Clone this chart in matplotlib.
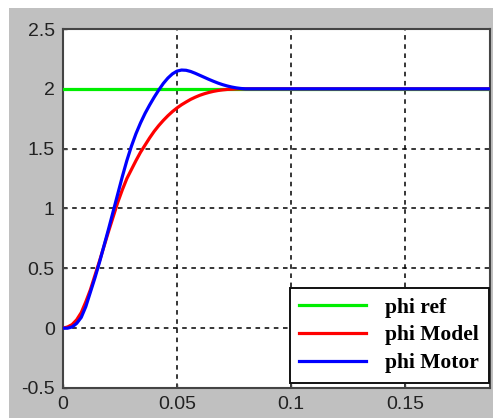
import matplotlib
matplotlib.use("Agg")
import matplotlib.pyplot as plt
from matplotlib.patches import Rectangle

# Data
t = [0.000, 0.002, 0.004, 0.006, 0.008, 0.010, 0.012, 0.014, 0.016, 0.018,
     0.020, 0.022, 0.024, 0.026, 0.028, 0.030, 0.032, 0.034, 0.036, 0.038,
     0.040, 0.042, 0.044, 0.046, 0.048, 0.050, 0.052, 0.054, 0.056, 0.058,
     0.060, 0.062, 0.064, 0.066, 0.068, 0.070, 0.072, 0.074, 0.076, 0.078,
     0.080, 0.190]
phi_ref = [2.0] * len(t)
phi_model = [0.0, 0.01, 0.03, 0.07, 0.13, 0.22, 0.32, 0.44, 0.56, 0.685,
             0.81, 0.93, 1.05, 1.155, 1.25, 1.325, 1.40, 1.47, 1.53, 1.59,
             1.645, 1.693, 1.736, 1.775, 1.81, 1.84, 1.867, 1.89, 1.912, 1.93,
             1.946, 1.959, 1.97, 1.979, 1.986, 1.991, 1.995, 1.997, 1.999, 2.0,
             2.0, 2.0]
phi_motor = [0.0, 0.0, 0.01, 0.04, 0.09, 0.18, 0.30, 0.42, 0.55, 0.69,
             0.83, 0.975, 1.12, 1.265, 1.40, 1.52, 1.625, 1.715, 1.795, 1.865,
             1.93, 1.99, 2.045, 2.09, 2.125, 2.148, 2.157, 2.155, 2.145, 2.13,
             2.113, 2.096, 2.079, 2.063, 2.048, 2.035, 2.024, 2.015, 2.008, 2.003,
             2.0, 2.0]
labels = ["phi ref", "phi Model", "phi Motor"]
xticks = [0, 0.05, 0.1, 0.15]
xtick_labels = ["0", "0.05", "0.1", "0.15"]
yticks = [-0.5, 0, 0.5, 1, 1.5, 2, 2.5]
ytick_labels = ["-0.5", "0", "0.5", "1", "1.5", "2", "2.5"]

W, H = 493, 418
fig = plt.figure(figsize=(W / 100, H / 100), dpi=100, facecolor="white")
fig.patches.append(Rectangle((9 / W, 0), 1, 1 - 8 / H, transform=fig.transFigure,
                             facecolor="#c0c0c0", edgecolor="none", zorder=-10))

ax = fig.add_axes([63 / W, 1 - 388 / H, 427 / W, 359 / H])
ax.set_facecolor("white")

ax.plot(t, phi_ref, color="#00ee00", lw=2.3, label=labels[0], zorder=3)
ax.plot(t, phi_model, color="#ff0000", lw=2.3, label=labels[1], zorder=4)
ax.plot(t, phi_motor, color="#0000ff", lw=2.3, label=labels[2], zorder=5)

ax.set_xlim(0, 0.1873)
ax.set_ylim(-0.5, 2.5)
ax.set_xticks(xticks)
ax.set_xticklabels(xtick_labels)
ax.set_yticks(yticks)
ax.set_yticklabels(ytick_labels)

ax.grid(True, color="black", linestyle=(0, (3, 3)), linewidth=1.1)
for s in ax.spines.values():
    s.set_color("#444444")
    s.set_linewidth(1.5)
ax.tick_params(direction="in", length=3, color="#444444", width=1,
               labelsize=14, labelcolor="#222222", pad=6)
for lab in ax.get_xticklabels() + ax.get_yticklabels():
    lab.set_family("Liberation Sans")

leg = ax.legend(loc="lower right", bbox_to_anchor=(1 - 1 / 427, 5 / 359),
                borderaxespad=0, fancybox=False, framealpha=1,
                edgecolor="#111111", handlelength=3.1, handletextpad=0.9,
                labelspacing=0.36, borderpad=0.45,
                prop={"family": "Liberation Serif", "weight": "bold", "size": 15.5})
leg.get_frame().set_linewidth(1.4)
leg.set_zorder(10)

fig.savefig("out.png", dpi=100, facecolor=fig.get_facecolor())
